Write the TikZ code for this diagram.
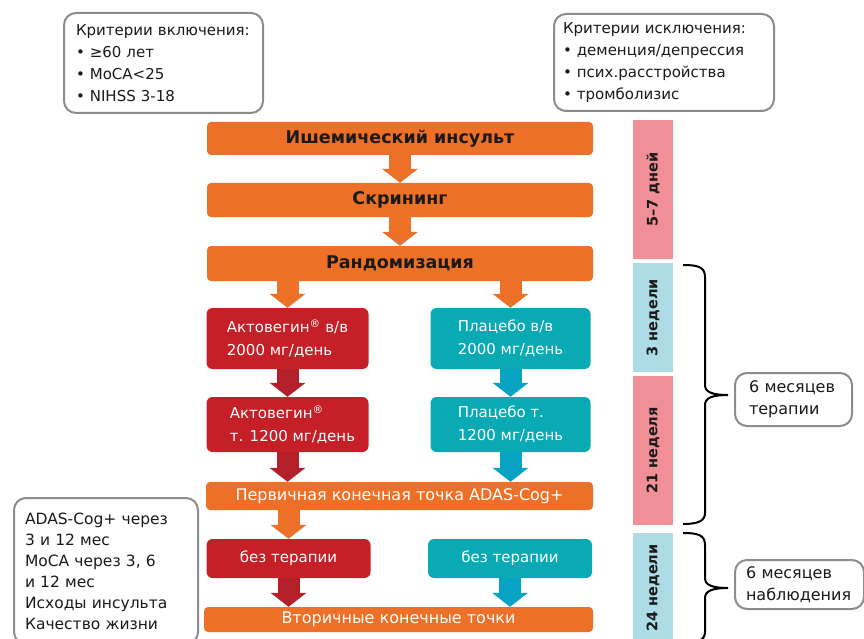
\documentclass[tikz,border=0pt]{standalone}
\usepackage{fontspec}
\setmainfont{DejaVu Sans}
\usetikzlibrary{arrows.meta}

\definecolor{barOrange}{RGB}{236,112,40}
\definecolor{armRed}{RGB}{197,32,40}
\definecolor{armRedDark}{RGB}{180,32,42}
\definecolor{armTeal}{RGB}{10,170,180}
\definecolor{armBlue}{RGB}{8,162,194}
\definecolor{weekPink}{RGB}{240,143,150}
\definecolor{weekBlue}{RGB}{173,220,231}
\definecolor{frameGray}{RGB}{140,140,140}
\definecolor{textBlack}{RGB}{26,26,26}

\begin{document}
\begin{tikzpicture}
[x=1pt,y=-1pt,
  barDecorate/.style={shape=rectangle,fill=barOrange,rounded corners=4pt,minimum width=386pt,inner sep=0pt},%
  boldBar/.style={barDecorate,text=textBlack,font=\bfseries\fontsize{17.5}{17.5}\selectfont},%
  plainBar/.style={barDecorate,text=white,font=\fontsize{16}{16}\selectfont},%
  armDecorate/.style={shape=rectangle,fill=#1,rounded corners=6pt,text=white,align=left,inner sep=0pt,font=\fontsize{15}{23}\selectfont},%
  frameDecorate/.style={shape=rectangle,draw=frameGray,line width=2pt,rounded corners=12pt,fill=white,text=textBlack,align=left,anchor=north west,inner ysep=0pt,font=\fontsize{15}{22}\selectfont},%
  weekDecorate/.style={shape=rectangle,fill=#1,rotate=90,minimum height=40pt,inner sep=0pt,text=textBlack,font=\bfseries\fontsize{14.5}{14.5}\selectfont},%
  arrowDecorate/.style={draw=#1,line width=22pt,-{Triangle[length=14pt,width=36pt,line width=0pt]}},%
  braceDecorate/.style={draw=black,line width=2pt}]
\useasboundingbox (0,0) rectangle (864,639);

%% criteria
\node (inclBox) at (63,12) [frameDecorate,minimum width=199pt,minimum height=100pt,text width=187pt,inner xsep=6pt]
  {\hspace*{6pt}Критерии включения:\\\hspace*{6pt}• ≥60 лет\\\hspace*{6pt}• MoCA<25\\\hspace*{6pt}• NIHSS 3-18};
\node (exclBox) at (553,13) [frameDecorate,minimum width=220pt,minimum height=97pt,text width=202pt,inner xsep=9pt]
  {Критерии исключения:\\• деменция/депрессия\\• псих.расстройства\\• тромболизис};

%% main flow
\node (isch) at (400,138.5) [boldBar,minimum height=33pt] {Ишемический инсульт};
\node (scr) at (400,200) [boldBar,minimum height=34pt] {Скрининг};
\node (rand) at (400,263.5) [boldBar,minimum height=35pt] {Рандомизация};
\node (act1) at (287.5,338.5) [armDecorate=armRed,minimum width=162pt,minimum height=61pt] {Актовегин\textsuperscript{®} в/в\\2000 мг/день};
\node (plc1) at (510.5,338.5) [armDecorate=armTeal,minimum width=160pt,minimum height=61pt] {Плацебо в/в\\2000 мг/день};
\node (act2) at (287.5,424.5) [armDecorate=armRed,minimum width=162pt,minimum height=55pt] {\hspace*{10pt}Актовегин\textsuperscript{®}\\\hspace*{10pt}т. 1200 мг/день};
\node (plc2) at (510.5,424.5) [armDecorate=armTeal,minimum width=160pt,minimum height=55pt] {Плацебо т.\\1200 мг/день};
\node (prim) at (399.5,496) [plainBar,minimum width=387pt,minimum height=28pt] {Первичная конечная точка ADAS-Cog+};
\node (act3) at (288.5,558.5) [armDecorate=armRed,minimum width=164pt,minimum height=39pt] {без терапии};
\node (plc3) at (510,558.5) [armDecorate=armTeal,minimum width=164pt,minimum height=39pt] {без терапии};
\node (sec) at (398.5,619.5) [plainBar,minimum width=389pt,minimum height=25pt] {Вторичные конечные точки};

%% arrows
\path
\foreach \startnode/\endnode/\col in {
  isch/scr/barOrange, scr/rand/barOrange,
  rand.south -| act1/act1/barOrange, rand.south -| plc1/plc1/barOrange,
  act1/act2/armRedDark, plc1/plc2/armBlue,
  act2/act2 |- prim.north/armRedDark, plc2/plc2 |- prim.north/armBlue,
  prim.south -| act3/act3/barOrange,
  act3/act3 |- sec.north/armRedDark, plc3/plc3 |- sec.north/armBlue}
{
  (\startnode) edge[arrowDecorate=\col] (\endnode)
};

%% time line
\foreach \name/\y/\h/\col/\txt in {
  days/189.5/139/weekPink/5–7 дней, wk3/317.5/109/weekBlue/3 недели,
  wk21/450.5/149/weekPink/21 неделя, wk24/588/110/weekBlue/24 недели}
{
  \node (\name) at (653,\y) [weekDecorate=\col,minimum width=\h pt] {\txt};
}

%% braces
\draw[braceDecorate] (683,265) .. controls (698,265) and (705,267) .. (705,277) -- (705,385)
  .. controls (705,392) and (712,395) .. (728,395) .. controls (712,395) and (705,398) .. (705,405)
  -- (705,513) .. controls (705,521) and (698,524) .. (683,524);
\draw[braceDecorate] (683,533) .. controls (698,533) and (705,535) .. (705,545) -- (705,578)
  .. controls (705,585) and (712,588) .. (728,588) .. controls (712,588) and (705,591) .. (705,598)
  -- (705,632) .. controls (705,640) and (698,643) .. (683,643);

\node (therBox) at (734,372) [frameDecorate,minimum width=117pt,minimum height=53pt,text width=89pt,inner xsep=14pt,font=\fontsize{16}{22}\selectfont] {6 месяцев\\терапии};
\node (obsBox) at (734,559) [frameDecorate,minimum width=129pt,minimum height=49pt,text width=107pt,inner xsep=11pt,font=\fontsize{16}{22}\selectfont] {6 месяцев\\наблюдения};

%% outcomes
\node (outBox) at (13,497) [frameDecorate,minimum width=184pt,minimum height=146pt,text width=162pt,inner xsep=11pt,font=\fontsize{15.5}{21}\selectfont]
  {ADAS-Cog+ через\\3 и 12 мес\\MoCA через 3, 6\\и 12 мес\\Исходы инсульта\\Качество жизни};
\end{tikzpicture}
\end{document}
